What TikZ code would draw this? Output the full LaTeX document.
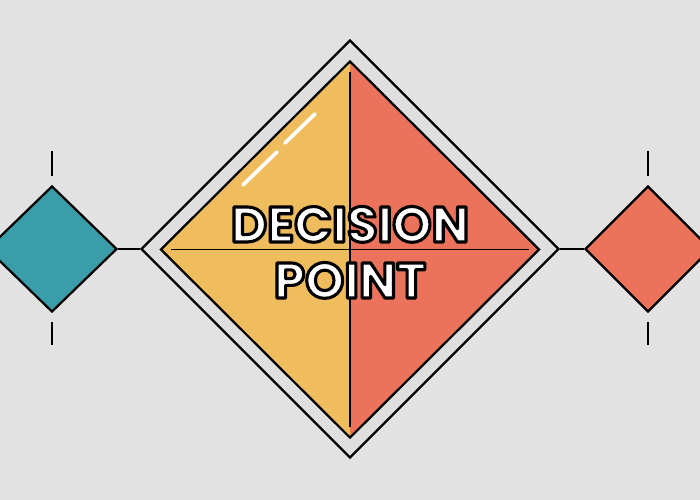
\documentclass[tikz,border=0pt]{standalone}
\usepackage{fontspec}
\usetikzlibrary{shapes.geometric, positioning, calc}
\newfontfamily\signfont{Poppins}
\definecolor{signbg}{HTML}{E2E2E2}
\definecolor{signband}{HTML}{DFDFDF}
\definecolor{signsand}{HTML}{EFBD5E}
\definecolor{signcoral}{HTML}{EB735B}
\definecolor{signteal}{HTML}{3B9DA9}
% white letters with a black rim
\newcommand\rimtext[1]{\special{pdf:literal direct 1 j 2 Tr 2.2 w 0 G 1 g}#1\special{pdf:literal direct 0 Tr}}
\tikzset{
	x=0.025cm, y=-0.025cm, % one unit is one pixel of the reference, y points down
	gem/.style={diamond, draw, line width=1.6pt, inner sep=0pt}, % every diamond
	stub/.style={line width=1.6pt}, % the short marks above and below
	divider/.style={line width=1.1pt, shorten <=0.3cm, shorten >=0.3cm}, % the cross in the sign
	gleam/.style={white, line width=2.6pt, line cap=round}, % the shine on the sign
	signword/.style={font=\signfont\bfseries\fontsize{35.5}{40}\selectfont, inner sep=0pt, anchor=base},
}
\begin{document}
\begin{tikzpicture}
	\fill[signbg] (0,0) rectangle (700,500);
	\useasboundingbox (0,0) rectangle (700,500);
	\clip (0,0) rectangle (700,500);

	\node[gem, fill=signband, minimum width=10.45cm, minimum height=10.45cm] (outer) at (350,249) {};
	\node[gem, fill=signsand, minimum width=9.475cm, minimum height=9.425cm,
		path picture={\fill[signcoral] (path picture bounding box.north) rectangle (path picture bounding box.south east);}] (inner) at (350,249.5) {};
	\node[gem, fill=signteal, minimum width=3.25cm, minimum height=3.15cm] (left) at (52,249) {};
	\node[gem, fill=signcoral, minimum width=3.15cm, minimum height=3.15cm] (right) at (648,249) {};

	\draw[divider] (inner.north) -- (inner.south);
	\draw[divider] (inner.west) -- (inner.east);

	\draw[gleam] (243,185) -- (277,152);
	\draw[gleam] (285,143) -- (315,114);

	\node[signword] (decision) at (350,242) {\rimtext{DECISION}};
	\node[signword] (point) at (350,298) {\rimtext{POINT}};

	\draw[stub] (left.east) -- (outer.west)
		(outer.east) -- (right.west);
	\foreach \d in {left, right} {
		\draw[stub] (\d.north) ++(0,-9) -- ++(0,-25);
		\draw[stub] (\d.south) ++(0,9) -- ++(0,23);
	}
\end{tikzpicture}
\end{document}
